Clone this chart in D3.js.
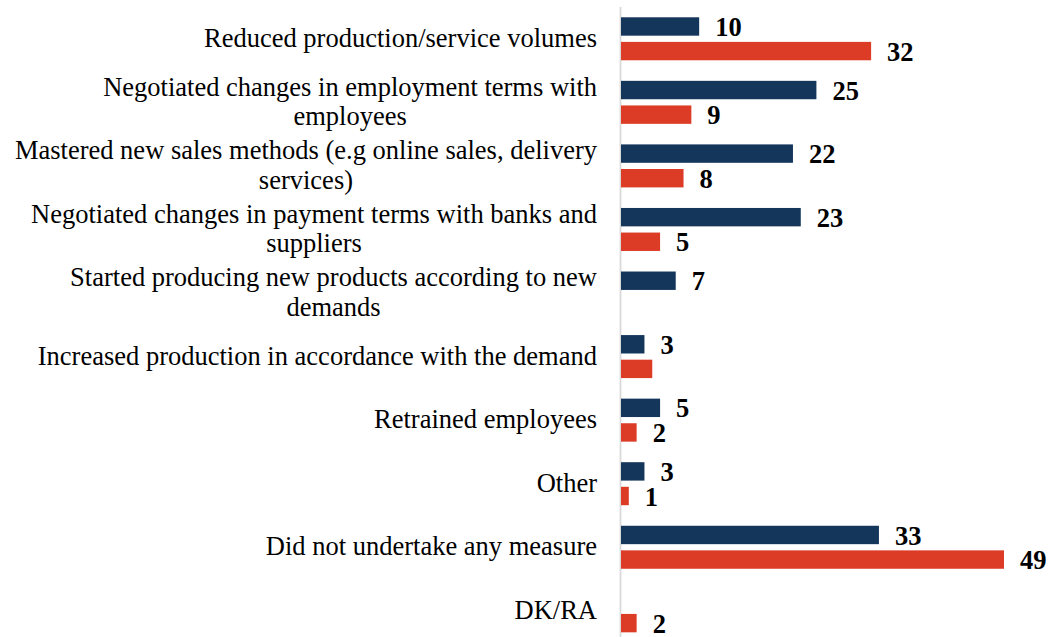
<!DOCTYPE html>
<html>
<head>
<meta charset="utf-8">
<script src="https://cdn.jsdelivr.net/npm/d3@7"></script>
<style>
  html, body { margin: 0; padding: 0; background: #ffffff; }
  svg { display: block; }
</style>
</head>
<body>
<svg id="chart" width="1049" height="637"></svg>
<script>
// Measures taken by firms, share of respondents (%) in two survey rounds
const categories = [
  "Reduced production/service volumes",
  "Negotiated changes in employment terms with employees",
  "Mastered new sales methods (e.g online sales, delivery services)",
  "Negotiated changes in payment terms with banks and suppliers",
  "Started producing new products according to new demands",
  "Increased production in accordance with the demand",
  "Retrained employees",
  "Other",
  "Did not undertake any measure",
  "DK/RA"
];
const seriesNames = ["round1", "round2"];
const round1Values = [10, 25, 22, 23, 7, 3, 5, 3, 33, null];
const round2Values = [32, 9, 8, 5, null, 4, 2, 1, 49, 2];
// bars that carry no value label
const unlabeled = [["round2", "Increased production in accordance with the demand"]];
const seriesColors = ["#14365B", "#DC3B26"];

const valuesBySeries = { round1: round1Values, round2: round2Values };
const rows = [];
categories.forEach((c, i) => {
  seriesNames.forEach(s => {
    const v = valuesBySeries[s][i];
    if (v !== null) {
      const hide = unlabeled.some(([us, uc]) => us === s && uc === c);
      rows.push({ category: c, series: s, value: v, showLabel: !hide });
    }
  });
});

const svg = d3.select("#chart");
const x0 = 621;

const x = d3.scaleLinear().domain([0, 49]).range([x0, 1004]);
const y = d3.scaleBand().domain(categories).range([7, 642.6]).paddingInner(0).paddingOuter(0);
const step = y.bandwidth();
const ySub = d3.scaleBand().domain(seriesNames)
  .range([step / 2 - 21.5, step / 2 + 21.5]).paddingInner(0.252);
const color = d3.scaleOrdinal().domain(seriesNames).range(seriesColors);

// vertical category axis line
svg.append("line")
  .attr("x1", x0 - 0.5).attr("x2", x0 - 0.5)
  .attr("y1", y.range()[0]).attr("y2", 637)
  .attr("stroke", "#d9d9d9").attr("stroke-width", 1.8);

// bars
svg.append("g").selectAll("rect").data(rows).join("rect")
  .attr("x", x(0))
  .attr("y", d => y(d.category) + ySub(d.series))
  .attr("width", d => x(d.value) - x(0))
  .attr("height", ySub.bandwidth())
  .attr("fill", d => color(d.series));

// value labels
svg.append("g").selectAll("text").data(rows.filter(d => d.showLabel)).join("text")
  .attr("x", d => x(d.value) + 16)
  .attr("y", d => y(d.category) + ySub(d.series) + ySub.bandwidth() / 2)
  .attr("dy", "0.36em")
  .attr("font-family", "'Liberation Serif', 'Times New Roman', serif")
  .attr("font-weight", "bold")
  .attr("font-size", "26.5px")
  .attr("fill", "#000")
  .text(d => d.value);

// category labels: wrapped, lines centred within a right-aligned block
const labelRight = 597;
const maxWidth = 592;
const lineHeight = 29.5;
const labelFont = "26.5px 'Liberation Serif', 'Times New Roman', serif";

const measureCtx = document.createElement("canvas").getContext("2d");
measureCtx.font = labelFont;
function wrap(text) {
  const words = text.split(" ");
  const lines = [];
  let cur = "";
  words.forEach(w => {
    const t = cur ? cur + " " + w : w;
    if (cur && measureCtx.measureText(t).width > maxWidth) {
      lines.push(cur);
      cur = w;
    } else {
      cur = t;
    }
  });
  if (cur) lines.push(cur);
  return lines;
}

const labelG = svg.append("g");
categories.forEach(c => {
  const lines = wrap(c);
  const widths = lines.map(l => measureCtx.measureText(l).width);
  const blockW = d3.max(widths);
  const cx = labelRight - blockW / 2;
  const cy = y(c) + step / 2;
  const top = cy - (lines.length - 1) * lineHeight / 2;
  const t = labelG.append("text")
    .attr("font-family", "'Liberation Serif', 'Times New Roman', serif")
    .attr("font-size", "26.5px")
    .attr("fill", "#000")
    .attr("text-anchor", "middle");
  lines.forEach((l, i) => {
    t.append("tspan")
      .attr("x", cx)
      .attr("y", top + i * lineHeight)
      .attr("dy", "0.3em")
      .text(l);
  });
});
</script>
</body>
</html>
